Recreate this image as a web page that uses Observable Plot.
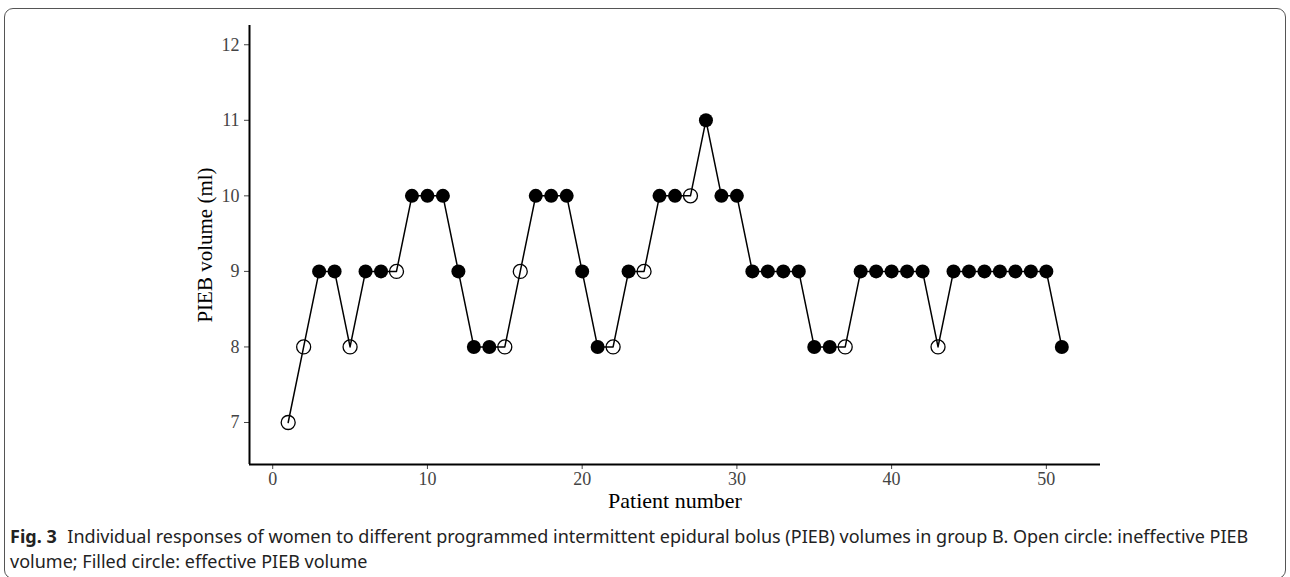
<!DOCTYPE html>
<html>
<head>
<meta charset="utf-8">
<script src="https://cdn.jsdelivr.net/npm/d3@7"></script>
<script src="https://cdn.jsdelivr.net/npm/@observablehq/plot@0.6"></script>
<style>
  html, body { margin: 0; padding: 0; background: #fff; }
  #wrap { position: relative; width: 1290px; height: 577px; overflow: hidden; }
  #frame { position: absolute; left: 4px; top: 8px; width: 1282px; height: 571px;
           border: 1.5px solid #555; border-radius: 9px; box-sizing: border-box; }
  #chart { position: absolute; left: 0; top: 0; }
  #caption { position: absolute; left: 10px; top: 524px; font-family: "Noto Sans", "Open Sans", sans-serif;
             font-size: 18px; line-height: 25px; color: #222; white-space: nowrap; }
  #caption b { font-weight: 700; margin-right: 6px; }
</style>
</head>
<body>
<div id="wrap">
  <div id="frame"></div>
  <div id="chart"></div>
  <div id="caption"><b>Fig. 3</b> Individual responses of women to different programmed intermittent epidural bolus (PIEB) volumes in group B. Open circle: ineffective PIEB<br>volume; Filled circle: effective PIEB volume</div>
</div>
<script>
const patients = [1,2,3,4,5,6,7,8,9,10,11,12,13,14,15,16,17,18,19,20,21,22,23,24,25,26,27,28,29,30,31,32,33,34,35,36,37,38,39,40,41,42,43,44,45,46,47,48,49,50,51];
const volumes  = [7,8,9,9,8,9,9,9,10,10, 10,9,8,8,8,9,10,10,10,9, 8,8,9,9,10,10,10,11,10,10, 9,9,9,9,8,8,8,9,9,9, 9,9,8,9,9,9,9,9,9,9,8];
const effective = [0,0,1,1,0,1,1,0,1,1, 1,1,1,1,0,0,1,1,1,1, 1,0,1,0,1,1,0,1,1,1, 1,1,1,1,1,1,0,1,1,1, 1,1,0,1,1,1,1,1,1,1,1];
const xTicks = [0,10,20,30,40,50];
const yTicks = [7,8,9,10,11,12];
const xDomain = [-1.5, 53.5];
const yDomain = [6.444, 12.255];

const data = patients.map((p, i) => ({patient: p, volume: volumes[i], effective: effective[i] === 1}));

const H = 515;
const chart = Plot.plot({
  width: 1290,
  height: H,
  marginLeft: 249,
  marginRight: 190,
  marginTop: 25,
  marginBottom: H - 464,
  x: {domain: xDomain},
  y: {domain: yDomain},
  style: {fontFamily: "'Liberation Serif', 'Times New Roman', serif", background: "transparent"},
  marks: [
    Plot.axisX({ticks: xTicks, tickFormat: d3.format("d"), tickSize: 5, tickPadding: 3, fontSize: 18, color: "#444", label: null}),
    Plot.axisY({ticks: yTicks, tickFormat: d3.format("d"), tickSize: 5, tickPadding: 5, fontSize: 18, color: "#444", label: null}),
    Plot.ruleX([xDomain[0]], {stroke: "black", strokeWidth: 2}),
    Plot.ruleY([yDomain[0]], {stroke: "black", strokeWidth: 2}),
    Plot.line(data, {x: "patient", y: "volume", stroke: "black", strokeWidth: 1.5}),
    Plot.dot(data.filter(d => d.effective), {x: "patient", y: "volume", r: 7, fill: "black", stroke: "none"}),
    Plot.dot(data.filter(d => !d.effective), {x: "patient", y: "volume", r: 7, fill: "none", stroke: "black", strokeWidth: 1.3}),
    Plot.text(["Patient number"], {text: d => d, frameAnchor: "bottom", lineAnchor: "middle", textAnchor: "middle", dy: 36, fontSize: 22, fill: "black"}),
    Plot.text(["PIEB volume (ml)"], {text: d => d, frameAnchor: "left", lineAnchor: "middle", textAnchor: "middle", dx: -44, rotate: -90, fontSize: 21, fill: "black"})
  ]
});
document.getElementById("chart").appendChild(chart);
</script>
</body>
</html>
